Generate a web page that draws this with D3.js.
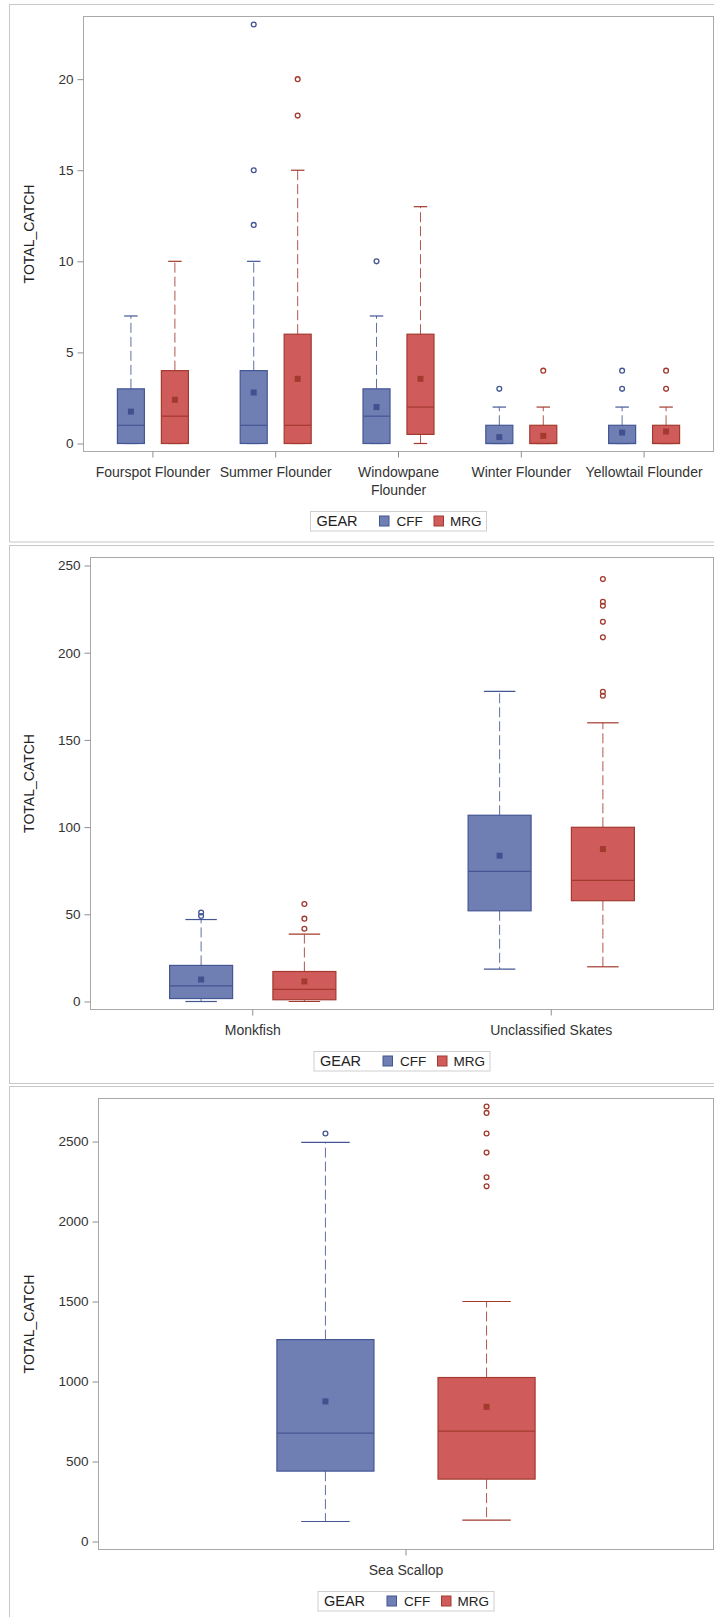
<!DOCTYPE html>
<html>
<head>
<meta charset="utf-8">
<script src="https://cdn.jsdelivr.net/npm/d3@7"></script>
<style>
  body { margin: 0; background: #fff; }
  svg { display: block; font-family: "Liberation Sans", Arial, sans-serif; }
</style>
</head>
<body>
<svg id="chart"></svg>
<script>
// ---- data ----
const gears = ["CFF", "MRG"];

// each stat row: [low whisker, q1, median, q3, high whisker, mean]
const flounderSpecies = ["Fourspot Flounder", "Summer Flounder", "Windowpane Flounder", "Winter Flounder", "Yellowtail Flounder"];
const flounderCFF = [[0, 0, 1, 3, 7, 1.75], [0, 0, 1, 4, 10, 2.8], [0, 0, 1.5, 3, 7, 2.0], [0, 0, 0, 1, 2, 0.35], [0, 0, 0, 1, 2, 0.6]];
const flounderMRG = [[0, 0, 1.5, 4, 10, 2.4], [0, 0, 1, 6, 15, 3.55], [0, 0.5, 2, 6, 13, 3.55], [0, 0, 0, 1, 2, 0.42], [0, 0, 0, 1, 2, 0.66]];
const flounderCFFOut = [[], [12, 15, 23], [10], [3], [3, 4]];
const flounderMRGOut = [[], [18, 20], [], [4], [3, 4]];
const flounderTicks = [0, 5, 10, 15, 20];

const otherSpecies = ["Monkfish", "Unclassified Skates"];
const otherCFF = [[0, 1.7, 9, 20.7, 47, 12.6], [18.6, 52, 74.6, 106.8, 177.8, 83.6]];
const otherMRG = [[0, 1, 6.9, 17.2, 38.6, 11.5], [19.9, 57.8, 69.5, 99.9, 159.8, 87.4]];
const otherCFFOut = [[49, 51], []];
const otherMRGOut = [[41.7, 47.5, 55.9], [175.3, 177.6, 208.8, 217.7, 226.9, 229.2, 242.2]];
const otherTicks = [0, 50, 100, 150, 200, 250];

const scallopSpecies = ["Sea Scallop"];
const scallopCFF = [[125, 440, 678, 1262, 2495, 876]];
const scallopMRG = [[133, 390, 690, 1025, 1500, 842]];
const scallopCFFOut = [[2550]];
const scallopMRGOut = [[2220, 2277, 2431, 2550, 2679, 2719]];
const scallopTicks = [0, 500, 1000, 1500, 2000, 2500];

// ---- look ----
const colors = {
  CFF: { fill: "#6F7EB3", line: "#445694", mean: "#41518F" },
  MRG: { fill: "#D05B5B", line: "#A23A2E", mean: "#A23A2E" }
};

const panels = [
  { cats: flounderSpecies, stats: { CFF: flounderCFF, MRG: flounderMRG }, out: { CFF: flounderCFFOut, MRG: flounderMRGOut }, ticks: flounderTicks,
    frame: { y: 4.5, h: 537.5 }, plot: { l: 83.5, t: 16.5, r: 713.5, b: 451.5 }, xPad: 8, gearOff: 0.179, boxFrac: 0.22 },
  { cats: otherSpecies, stats: { CFF: otherCFF, MRG: otherMRG }, out: { CFF: otherCFFOut, MRG: otherMRGOut }, ticks: otherTicks,
    frame: { y: 545.5, h: 538 }, plot: { l: 90.5, t: 557.5, r: 713.5, b: 1009.5 }, xPad: 13, gearOff: 0.173, boxFrac: 0.211 },
  { cats: scallopSpecies, stats: { CFF: scallopCFF, MRG: scallopMRG }, out: { CFF: scallopCFFOut, MRG: scallopMRGOut }, ticks: scallopTicks,
    frame: { y: 1086.5, h: 600 }, plot: { l: 98.5, t: 1098.5, r: 713.5, b: 1549.5 }, xPad: 8, gearOff: 0.1345, boxFrac: 0.162 }
];

const W = 714, H = 1617;
const svg = d3.select("#chart").attr("width", W).attr("height", H);
svg.append("rect").attr("width", W).attr("height", H).attr("fill", "#fff");

panels.forEach(drawPanel);

function drawPanel(p) {
  const g = svg.append("g");

  // outer panel frame (right side runs off the picture)
  g.append("rect")
    .attr("x", 9.5).attr("y", p.frame.y)
    .attr("width", 730).attr("height", p.frame.h)
    .attr("fill", "none").attr("stroke", "#c8c8c8");

  const allVals = gears.flatMap(k => p.stats[k].flat().concat(p.out[k].flat()));
  const yMax = Math.max(d3.max(allVals), d3.max(p.ticks));
  const y = d3.scaleLinear().domain([0, yMax]).range([p.plot.b - 8, p.plot.t + 8]);
  const x = d3.scaleBand().domain(p.cats).range([p.plot.l + p.xPad, p.plot.r - p.xPad]);
  const bw = x.bandwidth();
  const boxW = bw * p.boxFrac;
  const gx = d3.scaleOrdinal().domain(gears).range([-bw * p.gearOff, bw * p.gearOff]);

  // plot frame
  g.append("rect")
    .attr("x", p.plot.l).attr("y", p.plot.t)
    .attr("width", p.plot.r - p.plot.l).attr("height", p.plot.b - p.plot.t)
    .attr("fill", "#fff").attr("stroke", "#a9a9a9");

  // y axis
  const yAxis = g.append("g")
    .attr("transform", `translate(${p.plot.l},0)`)
    .call(d3.axisLeft(y).tickValues(p.ticks).tickFormat(d3.format("d")).tickSize(6).tickPadding(4))
    .attr("font-size", 13.5).attr("font-family", null);
  yAxis.select(".domain").remove();
  yAxis.selectAll("line").attr("stroke", "#8f8f8f");
  yAxis.selectAll("text").attr("fill", "#333");

  // x axis
  const xAxis = g.append("g")
    .attr("transform", `translate(0,${p.plot.b})`)
    .call(d3.axisBottom(x).tickSize(6).tickFormat(""));
  xAxis.select(".domain").remove();
  xAxis.selectAll("line").attr("stroke", "#8f8f8f");

  const labels = g.append("g").selectAll("text")
    .data(p.cats)
    .enter().append("text")
    .attr("transform", d => `translate(${x(d) + bw / 2},${p.plot.b + 25})`)
    .attr("text-anchor", "middle")
    .attr("font-size", 14)
    .attr("fill", "#333")
    .text(d => d);
  let maxLines = 1;
  labels.each(function (d) {
    const t = d3.select(this);
    const words = d.split(" ");
    let line = [];
    let tspan = t.text(null).append("tspan").attr("x", 0).attr("dy", 0);
    let n = 1;
    words.forEach(w => {
      line.push(w);
      tspan.text(line.join(" "));
      if (tspan.node().getComputedTextLength() > bw && line.length > 1) {
        line.pop();
        tspan.text(line.join(" "));
        line = [w];
        tspan = t.append("tspan").attr("x", 0).attr("dy", 18).text(w);
        n++;
      }
    });
    maxLines = Math.max(maxLines, n);
  });

  // y axis title
  g.append("text")
    .attr("transform", `translate(34,${(p.plot.t + p.plot.b) / 2}) rotate(-90)`)
    .attr("text-anchor", "middle")
    .attr("font-size", 14)
    .attr("fill", "#222")
    .text("TOTAL_CATCH");

  // boxes
  gears.forEach(k => {
    const c = colors[k];
    const rows = p.cats.map((cat, i) => ({ cat, s: p.stats[k][i], out: p.out[k][i], cx: x(cat) + bw / 2 + gx(k) }));
    const bg = g.append("g");

    // whiskers
    bg.selectAll(".whi").data(rows).enter().append("line")
      .attr("x1", d => d.cx).attr("x2", d => d.cx)
      .attr("y1", d => y(d.s[3])).attr("y2", d => y(d.s[4]))
      .attr("stroke", c.line).attr("stroke-opacity", 0.85).attr("stroke-dasharray", "10,4");
    bg.selectAll(".wlo").data(rows).enter().append("line")
      .attr("x1", d => d.cx).attr("x2", d => d.cx)
      .attr("y1", d => y(d.s[1])).attr("y2", d => y(d.s[0]))
      .attr("stroke", c.line).attr("stroke-opacity", 0.85).attr("stroke-dasharray", "10,4");
    // caps
    [0, 4].forEach(j => {
      bg.selectAll(".cap" + j).data(rows).enter().append("line")
        .attr("x1", d => d.cx - boxW / 4).attr("x2", d => d.cx + boxW / 4)
        .attr("y1", d => y(d.s[j])).attr("y2", d => y(d.s[j]))
        .attr("stroke", c.line).attr("stroke-width", 1.2);
    });
    // box
    bg.selectAll(".box").data(rows).enter().append("rect")
      .attr("x", d => d.cx - boxW / 2).attr("width", boxW)
      .attr("y", d => y(d.s[3])).attr("height", d => y(d.s[1]) - y(d.s[3]))
      .attr("fill", c.fill).attr("stroke", c.line).attr("stroke-width", 1.2);
    // median
    bg.selectAll(".med").data(rows).enter().append("line")
      .attr("x1", d => d.cx - boxW / 2).attr("x2", d => d.cx + boxW / 2)
      .attr("y1", d => y(d.s[2])).attr("y2", d => y(d.s[2]))
      .attr("stroke", c.line).attr("stroke-width", 1.2);
    // mean
    bg.selectAll(".mean").data(rows).enter().append("rect")
      .attr("x", d => d.cx - 3).attr("y", d => y(d.s[5]) - 3)
      .attr("width", 6).attr("height", 6)
      .attr("fill", c.mean);
    // outliers
    bg.selectAll(".out").data(rows.flatMap(d => d.out.map(v => ({ cx: d.cx, v }))))
      .enter().append("circle")
      .attr("cx", d => d.cx).attr("cy", d => y(d.v)).attr("r", 2.4)
      .attr("fill", "none").attr("stroke", c.line).attr("stroke-width", 1.3);
  });

  // legend
  const legendY = p.plot.b + 42 + (maxLines - 1) * 18;
  const lg = g.append("g")
    .attr("transform", `translate(${(p.plot.l + p.plot.r) / 2 - 88},${legendY})`);
  lg.append("rect")
    .attr("width", 176).attr("height", 19.5)
    .attr("fill", "#fff").attr("stroke", "#cfcfcf");
  lg.append("text")
    .attr("x", 6).attr("y", 14.8)
    .attr("font-size", 14.5).attr("fill", "#222")
    .text("GEAR");
  gears.forEach((k, i) => {
    lg.append("rect")
      .attr("x", 69 + i * 54.5).attr("y", 4.5)
      .attr("width", 9.5).attr("height", 10)
      .attr("fill", colors[k].fill).attr("stroke", colors[k].line);
    lg.append("text")
      .attr("x", 86 + i * 53.5).attr("y", 14.8)
      .attr("font-size", 13.5).attr("fill", "#222")
      .text(k);
  });
}
</script>
</body>
</html>
